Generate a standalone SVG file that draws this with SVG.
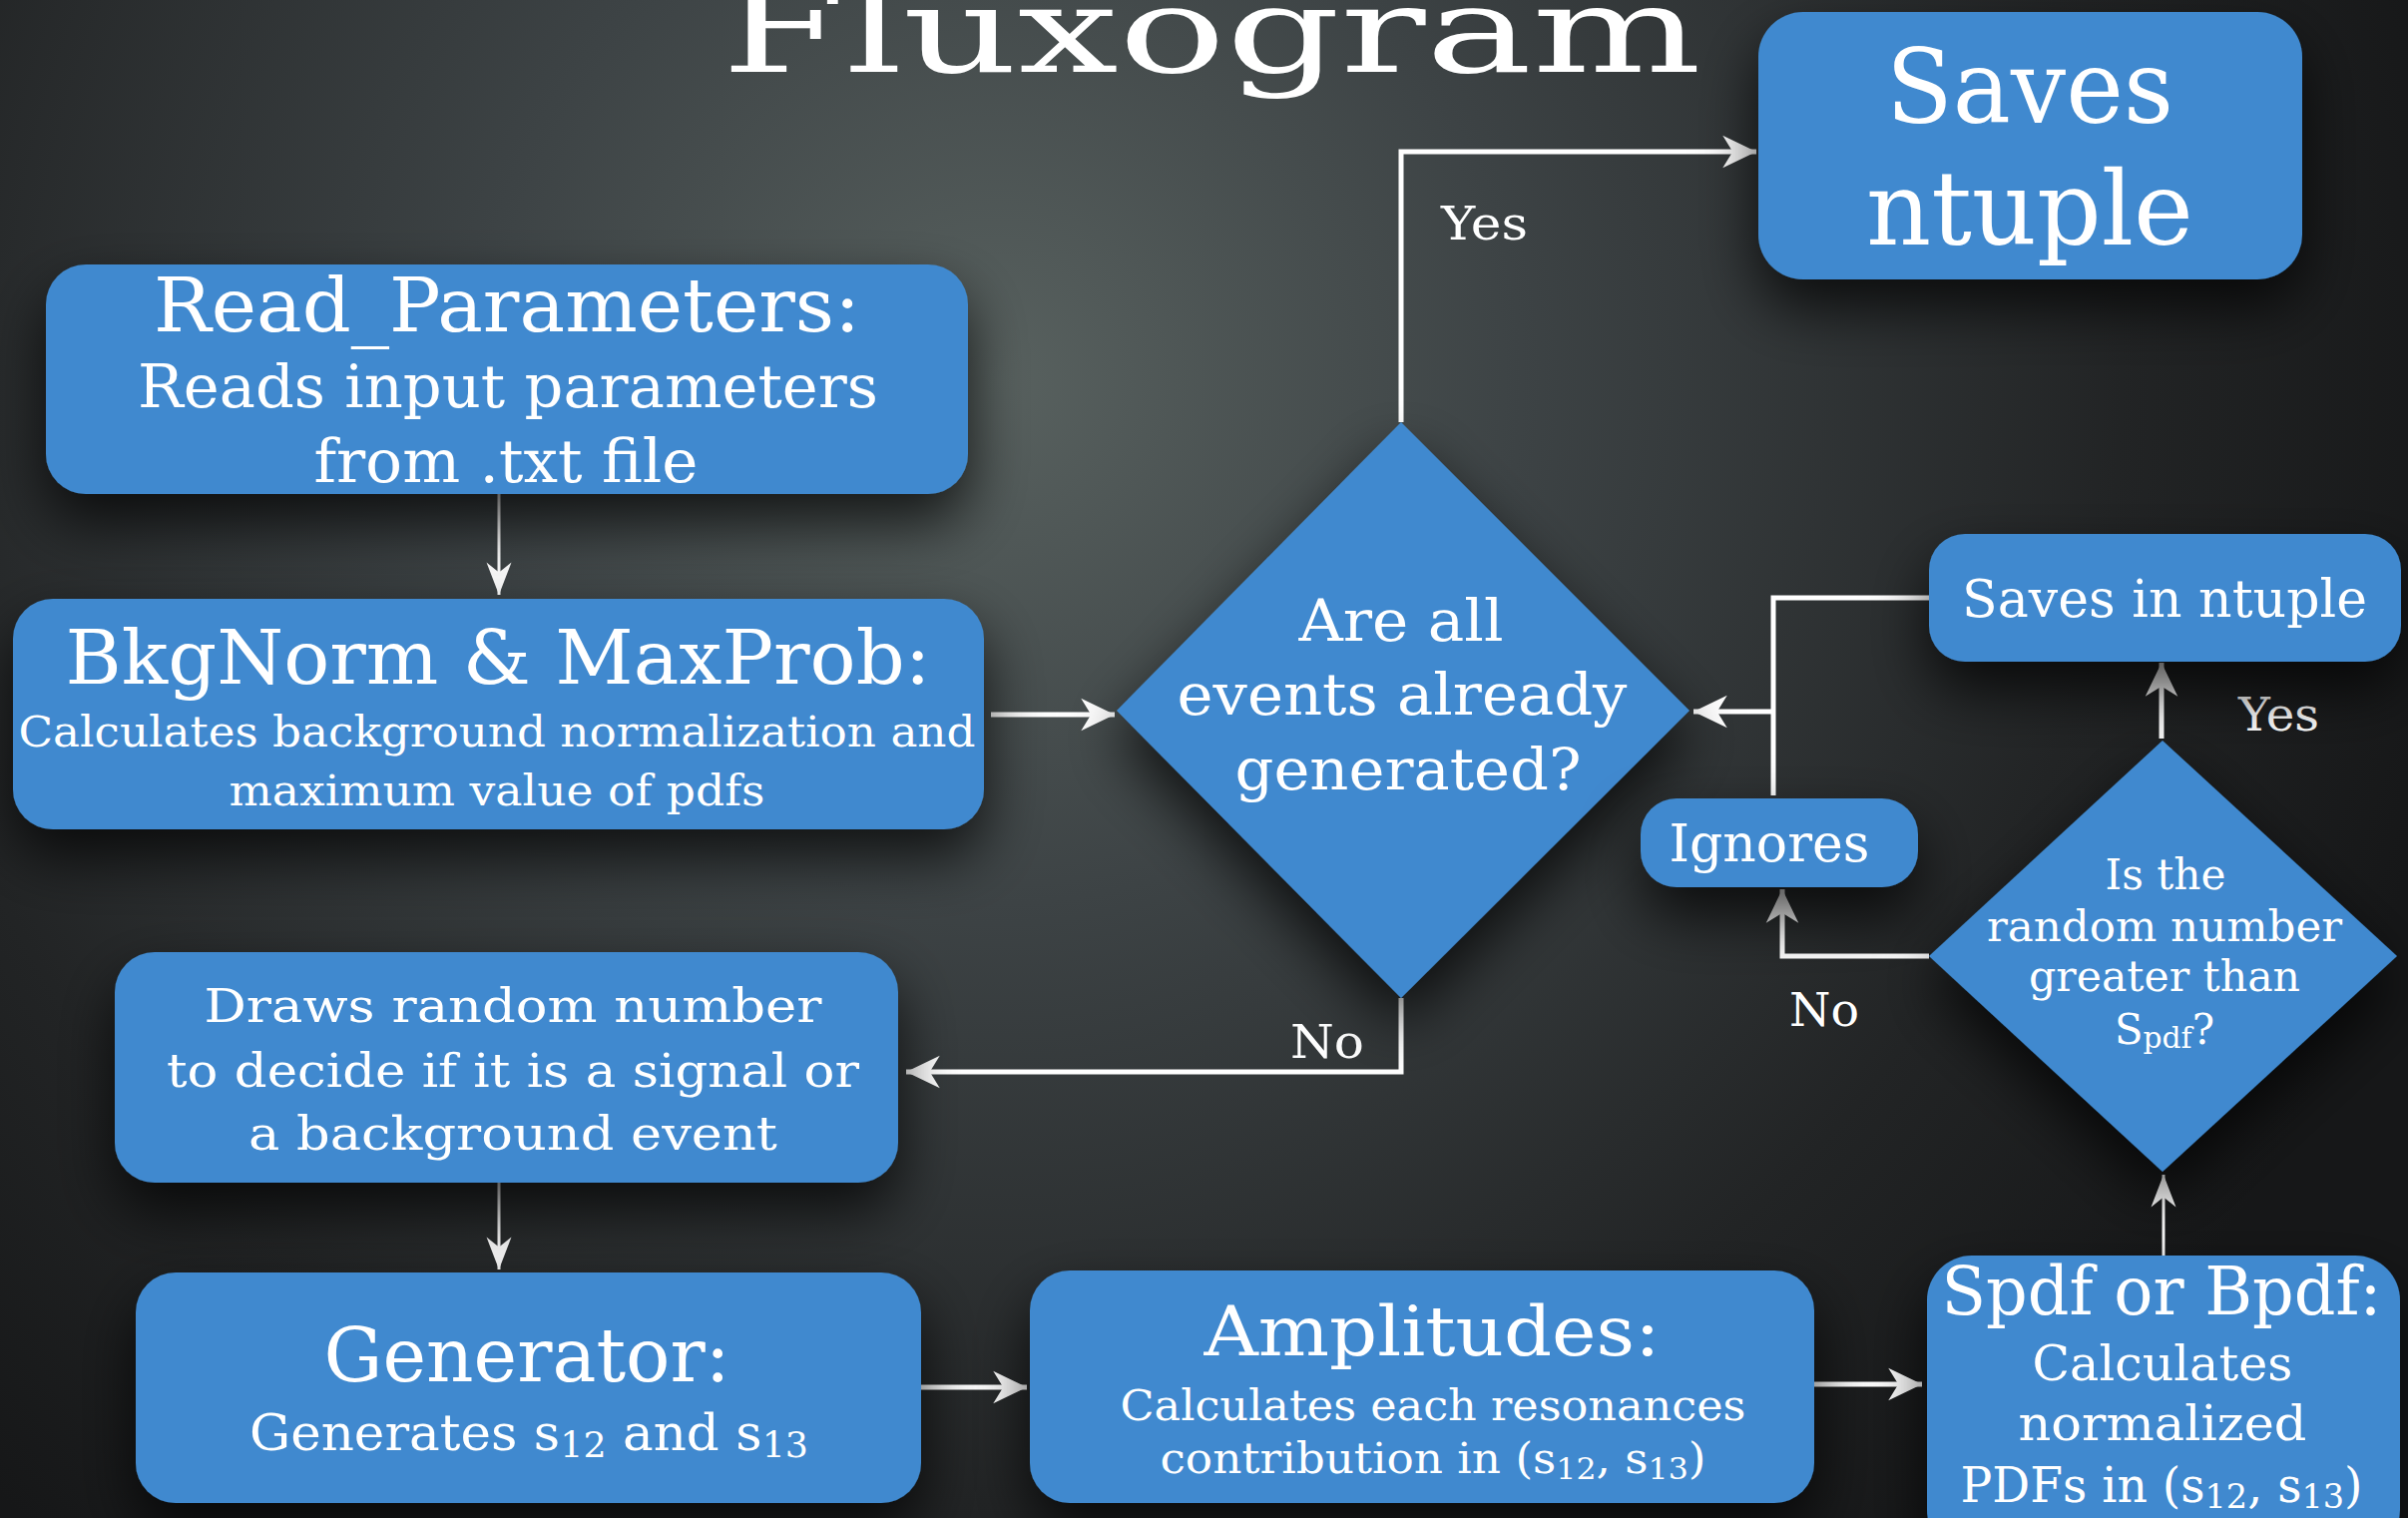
<svg xmlns="http://www.w3.org/2000/svg" width="2413" height="1521" viewBox="0 0 2413 1521">
<defs>
<radialGradient id="bg" cx="1000" cy="380" r="1500" gradientUnits="userSpaceOnUse">
<stop offset="0" stop-color="#58615f"/>
<stop offset="0.35" stop-color="#3d4345"/>
<stop offset="0.75" stop-color="#222425"/>
<stop offset="1" stop-color="#161718"/>
</radialGradient>
<filter id="sh" filterUnits="userSpaceOnUse" x="-300" y="-300" width="3013" height="2121">
<feDropShadow dx="0" dy="28" stdDeviation="30" flood-color="#000" flood-opacity="0.75"/>
</filter>
<marker id="ah" markerUnits="userSpaceOnUse" markerWidth="40" markerHeight="40" viewBox="-30 -15 32 30" refX="0" refY="0" orient="auto">
<path d="M0,0 L-27,-13 L-19,0 L-27,13 Z" fill="#fff"/>
</marker>
<marker id="ahs" markerUnits="userSpaceOnUse" markerWidth="40" markerHeight="40" viewBox="-30 -15 32 30" refX="0" refY="0" orient="auto">
<path d="M0,0 L-26,-10 L-18,0 L-26,10 Z" fill="#fff"/>
</marker>
</defs>
<style>
.box{fill:#3f89cf;filter:url(#sh)}
.t{font-family:"DejaVu Serif","Liberation Serif",serif;fill:#fff;text-anchor:middle}
.c{fill:none;stroke:#fff;stroke-width:5}
.cs{fill:none;stroke:#fff;stroke-width:3}
.lbl{font-family:"DejaVu Serif","Liberation Serif",serif;fill:#fff;font-size:46px}
</style>
<rect x="0" y="0" width="2413" height="1521" fill="url(#bg)"/>

<text class="t" x="1214" y="72" font-size="120" textLength="982" lengthAdjust="spacingAndGlyphs">Fluxogram</text>

<g id="connectors">
<path class="c" d="M1404,423 V152 H1760" marker-end="url(#ah)"/>
<path class="cs" d="M500,495 V596" marker-end="url(#ahs)"/>
<path class="c" d="M993,716 H1117" marker-end="url(#ah)"/>
<path class="c" d="M1404,1000 V1074 H908" marker-end="url(#ah)"/>
<path class="cs" d="M500,1185 V1272" marker-end="url(#ahs)"/>
<path class="c" d="M923,1390 H1029" marker-end="url(#ah)"/>
<path class="c" d="M1818,1387 H1926" marker-end="url(#ah)"/>
<path class="cs" d="M2168,1258 V1177" marker-end="url(#ahs)"/>
<path class="c" d="M2166,740 V664" marker-end="url(#ah)"/>
<path class="c" d="M1933,958 H1786 V891" marker-end="url(#ah)"/>
<path class="c" d="M1933,599 H1777 V797"/>
<path class="c" d="M1777,713 H1697" marker-end="url(#ah)"/>
<text class="lbl" x="1444" y="240" textLength="87" lengthAdjust="spacingAndGlyphs">Yes</text>
<text class="lbl" x="1293" y="1060" textLength="74" lengthAdjust="spacingAndGlyphs">No</text>
<text class="lbl" x="2243" y="732" textLength="81" lengthAdjust="spacingAndGlyphs">Yes</text>
<text class="lbl" x="1793" y="1028" textLength="70" lengthAdjust="spacingAndGlyphs">No</text>
</g>

<g id="saves-ntuple">
<rect class="box" x="1762" y="12" width="545" height="268" rx="45"/>
<text class="t" x="2034" y="123" font-size="103" textLength="288" lengthAdjust="spacingAndGlyphs">Saves</text>
<text class="t" x="2034" y="245" font-size="103" textLength="328" lengthAdjust="spacingAndGlyphs">ntuple</text>
</g>

<g id="read-parameters">
<rect class="box" x="46" y="265" width="924" height="230" rx="40"/>
<text class="t" x="508" y="332" font-size="74" textLength="708" lengthAdjust="spacingAndGlyphs">Read_Parameters:</text>
<text class="t" x="509" y="408" font-size="59" textLength="742" lengthAdjust="spacingAndGlyphs">Reads input parameters</text>
<text class="t" x="507" y="483" font-size="59" textLength="385" lengthAdjust="spacingAndGlyphs">from .txt file</text>
</g>

<g id="bkgnorm">
<rect class="box" x="13" y="600" width="973" height="231" rx="40"/>
<text class="t" x="499" y="685" font-size="75" textLength="867" lengthAdjust="spacingAndGlyphs">BkgNorm &amp; MaxProb:</text>
<text class="t" x="498" y="748" font-size="43" textLength="959" lengthAdjust="spacingAndGlyphs">Calculates background normalization and</text>
<text class="t" x="498" y="807" font-size="43" textLength="537" lengthAdjust="spacingAndGlyphs">maximum value of pdfs</text>
</g>

<g id="all-generated">
<polygon class="box" points="1404,423 1693,712 1404,1000 1119,712"/>
<text class="t" x="1404" y="642" font-size="58" textLength="205" lengthAdjust="spacingAndGlyphs">Are all</text>
<text class="t" x="1405" y="716" font-size="58" textLength="451" lengthAdjust="spacingAndGlyphs">events already</text>
<text class="t" x="1411" y="791" font-size="58" textLength="347" lengthAdjust="spacingAndGlyphs">generated?</text>
</g>

<g id="saves-in-ntuple">
<rect class="box" x="1933" y="535" width="473" height="128" rx="36"/>
<text class="t" x="2169" y="618" font-size="52" textLength="406" lengthAdjust="spacingAndGlyphs">Saves in ntuple</text>
</g>

<g id="ignores">
<rect class="box" x="1644" y="800" width="278" height="89" rx="36"/>
<text class="t" x="1773" y="863" font-size="52" textLength="201" lengthAdjust="spacingAndGlyphs">Ignores</text>
</g>

<g id="random-greater">
<polygon class="box" points="2167,742 2402,958 2167,1174 1933,958"/>
<text class="t" x="2170" y="891" font-size="42" textLength="121" lengthAdjust="spacingAndGlyphs">Is the</text>
<text class="t" x="2169" y="943" font-size="42" textLength="356" lengthAdjust="spacingAndGlyphs">random number</text>
<text class="t" x="2169" y="993" font-size="42" textLength="272" lengthAdjust="spacingAndGlyphs">greater than</text>
<text class="t" x="2169" y="1046" font-size="42" textLength="100" lengthAdjust="spacingAndGlyphs">S<tspan font-size="30" dy="4">pdf</tspan><tspan dy="-4">?</tspan></text>
</g>

<g id="draws-random">
<rect class="box" x="115" y="954" width="785" height="231" rx="40"/>
<text class="t" x="514" y="1024" font-size="46" textLength="619" lengthAdjust="spacingAndGlyphs">Draws random number</text>
<text class="t" x="514" y="1089" font-size="46" textLength="694" lengthAdjust="spacingAndGlyphs">to decide if it is a signal or</text>
<text class="t" x="514" y="1152" font-size="46" textLength="530" lengthAdjust="spacingAndGlyphs">a background event</text>
</g>

<g id="generator">
<rect class="box" x="136" y="1275" width="787" height="231" rx="40"/>
<text class="t" x="528" y="1384" font-size="74" textLength="407" lengthAdjust="spacingAndGlyphs">Generator:</text>
<text class="t" x="530" y="1453" font-size="51" textLength="560" lengthAdjust="spacingAndGlyphs">Generates s<tspan font-size="36" dy="7">12</tspan><tspan dy="-7"> and s</tspan><tspan font-size="36" dy="7">13</tspan></text>
</g>

<g id="amplitudes">
<rect class="box" x="1032" y="1273" width="786" height="233" rx="40"/>
<text class="t" x="1435" y="1358" font-size="70" textLength="457" lengthAdjust="spacingAndGlyphs">Amplitudes:</text>
<text class="t" x="1436" y="1423" font-size="43" textLength="627" lengthAdjust="spacingAndGlyphs">Calculates each resonances</text>
<text class="t" x="1436" y="1476" font-size="43" textLength="547" lengthAdjust="spacingAndGlyphs">contribution in (s<tspan font-size="30" dy="6">12</tspan><tspan dy="-6">, s</tspan><tspan font-size="30" dy="6">13</tspan><tspan dy="-6">)</tspan></text>
</g>

<g id="spdf-bpdf">
<rect class="box" x="1931" y="1258" width="474" height="300" rx="45"/>
<text class="t" x="2166" y="1317" font-size="67" textLength="441" lengthAdjust="spacingAndGlyphs">Spdf or Bpdf:</text>
<text class="t" x="2167" y="1383" font-size="48" textLength="261" lengthAdjust="spacingAndGlyphs">Calculates</text>
<text class="t" x="2167" y="1443" font-size="48" textLength="289" lengthAdjust="spacingAndGlyphs">normalized</text>
<text class="t" x="2166" y="1505" font-size="48" textLength="403" lengthAdjust="spacingAndGlyphs">PDFs in (s<tspan font-size="34" dy="6">12</tspan><tspan dy="-6">, s</tspan><tspan font-size="34" dy="6">13</tspan><tspan dy="-6">)</tspan></text>
</g>
</svg>
